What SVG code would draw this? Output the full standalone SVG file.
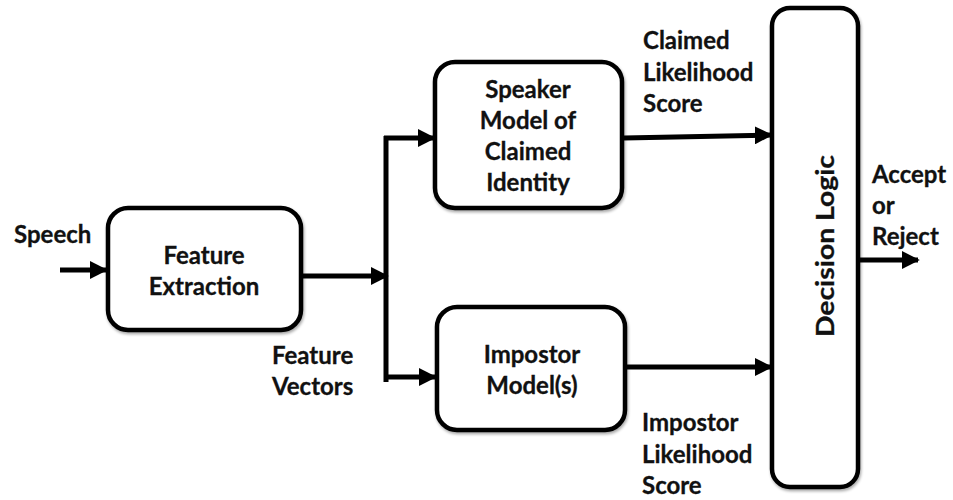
<svg xmlns="http://www.w3.org/2000/svg" width="953" height="500" viewBox="0 0 953 500">
<style>
  .box { fill: #fff; stroke: #000; stroke-width: 4.5; filter: url(#sh); }
  .t { font-family: Lato, "Open Sans", "Liberation Sans", sans-serif; font-weight: bold; font-size: 24px; fill: #111; stroke: #111; stroke-width: 0.3; }
  .c { text-anchor: middle; }
  .ln { stroke: #000; stroke-width: 5; fill: none; }
</style>
<defs>
  <marker id="ah" viewBox="0 0 10 10" refX="9" refY="5" markerWidth="3.6" markerHeight="3.6" orient="auto" markerUnits="strokeWidth">
    <path d="M0,0 L10,5 L0,10 z" fill="#000"/>
  </marker>
  <filter id="sh" x="-10%" y="-10%" width="120%" height="120%">
    <feGaussianBlur in="SourceAlpha" stdDeviation="1.5"/>
    <feOffset dx="1" dy="2" result="b"/>
    <feComponentTransfer><feFuncA type="linear" slope="0.35"/></feComponentTransfer>
    <feMerge><feMergeNode/><feMergeNode in="SourceGraphic"/></feMerge>
  </filter>
</defs>
<rect width="953" height="500" fill="#fff"/>

<g id="connectors">
  <line class="ln" x1="60" y1="270" x2="106" y2="270" marker-end="url(#ah)"/>
  <line class="ln" x1="302" y1="276" x2="387" y2="276" marker-end="url(#ah)"/>
  <line class="ln" x1="386" y1="136" x2="386" y2="382"/>
  <line class="ln" x1="384" y1="138" x2="434" y2="138" marker-end="url(#ah)"/>
  <line class="ln" x1="384" y1="377" x2="435" y2="377" marker-end="url(#ah)"/>
  <line class="ln" x1="624" y1="138" x2="771" y2="135" marker-end="url(#ah)"/>
  <line class="ln" x1="627" y1="367" x2="771" y2="367" marker-end="url(#ah)"/>
  <line class="ln" x1="860" y1="260" x2="918" y2="260" marker-end="url(#ah)"/>
</g>

<g id="speech-label">
  <text class="t" x="14" y="243">Speech</text>
</g>

<g id="feature-extraction">
  <rect class="box" x="108" y="208" width="193" height="122" rx="20"/>
  <text class="t c" x="204" y="264">Feature</text>
  <text class="t c" x="204" y="295">Extraction</text>
</g>

<g id="feature-vectors-label">
  <text class="t" x="272" y="364">Feature</text>
  <text class="t" x="272" y="395">Vectors</text>
</g>

<g id="speaker-model">
  <rect class="box" x="435" y="62" width="187" height="146" rx="20"/>
  <text class="t c" x="528" y="98">Speaker</text>
  <text class="t c" x="528" y="129">Model of</text>
  <text class="t c" x="528" y="160">Claimed</text>
  <text class="t c" x="528" y="191">Identity</text>
</g>

<g id="claimed-label">
  <text class="t" x="643" y="49">Claimed</text>
  <text class="t" x="643" y="81">Likelihood</text>
  <text class="t" x="643" y="112">Score</text>
</g>

<g id="impostor-model">
  <rect class="box" x="437" y="307" width="188" height="123" rx="20"/>
  <text class="t c" x="532" y="363">Impostor</text>
  <text class="t c" x="532" y="394">Model(s)</text>
</g>

<g id="impostor-label">
  <text class="t" x="642" y="431">Impostor</text>
  <text class="t" x="642" y="463">Likelihood</text>
  <text class="t" x="642" y="494">Score</text>
</g>

<g id="decision-logic">
  <rect class="box" x="772" y="8" width="86" height="479" rx="18"/>
  <text class="t c" x="0" y="0" font-size="29" textLength="182" lengthAdjust="spacingAndGlyphs" transform="translate(834,246) rotate(-90)">Decision Logic</text>
</g>

<g id="output-label">
  <text class="t" x="872" y="183">Accept</text>
  <text class="t" x="872" y="214">or</text>
  <text class="t" x="872" y="245">Reject</text>
</g>
</svg>
